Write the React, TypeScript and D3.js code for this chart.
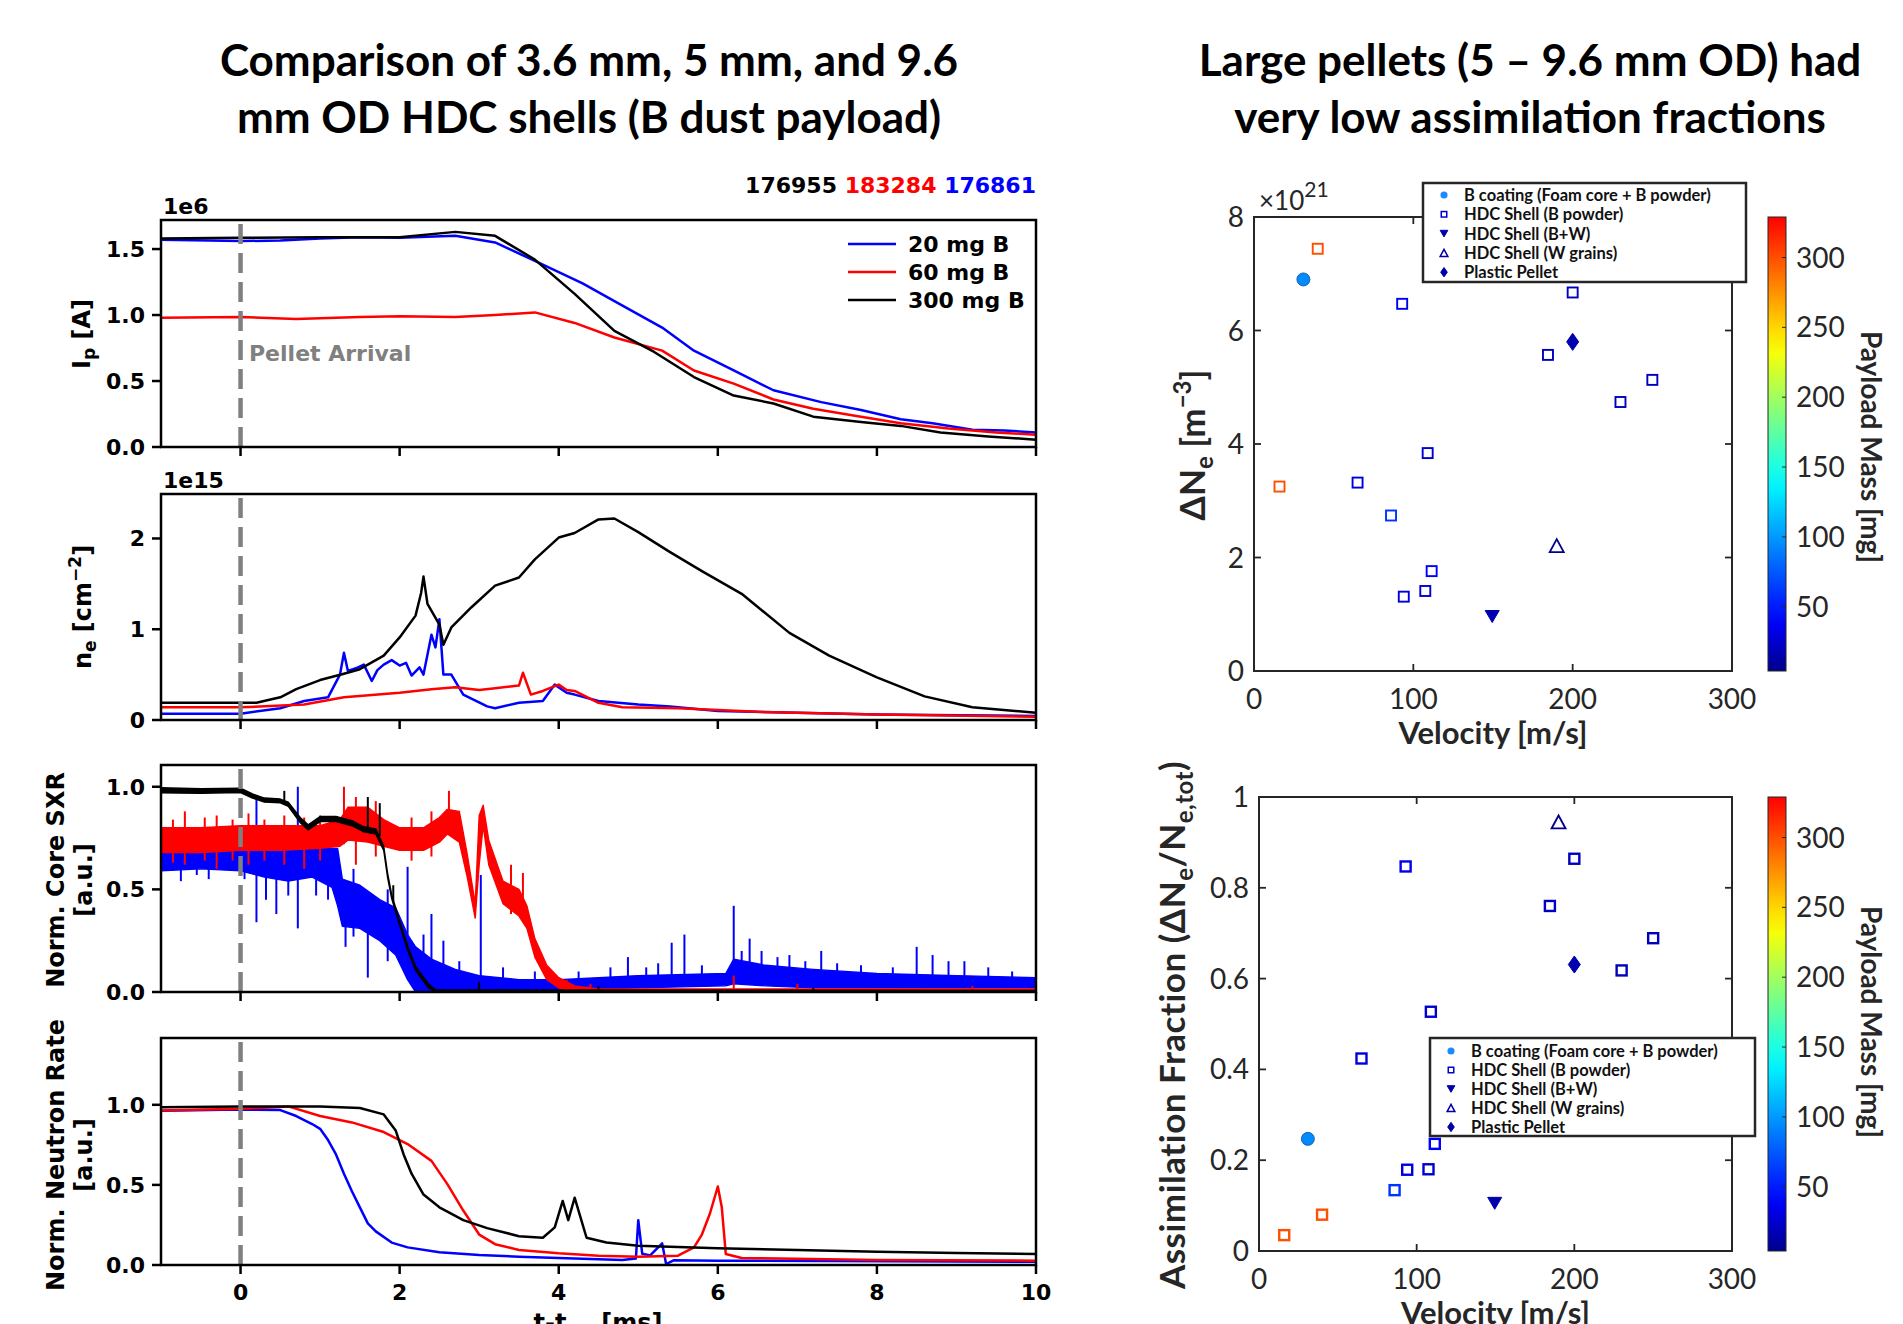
import React from 'react';
import * as d3 from 'd3';

type P2 = [number, number];
type P3 = [number, number, number];

// ---- left column: time traces (t in ms) ----
const T_TICKS = [0, 2, 4, 6, 8, 10];
const SERIES_LABELS = ['20 mg B', '60 mg B', '300 mg B'];
const SERIES_COLORS = ['#0000ff', '#ff0000', '#000000'];
const SHOT_NUMBERS = ['176955', '183284', '176861'];
const SHOT_COLORS = ['#000000', '#ff0000', '#0000ff'];

// plasma current, units of 1e6 A
const IP_20MG: P2[] = [[-1, 1.57], [0, 1.56], [0.5, 1.565], [1, 1.58], [1.5, 1.59], [2, 1.585], [2.7, 1.6], [3.2, 1.55], [3.7, 1.41], [4.3, 1.24], [4.7, 1.105], [5.3, 0.905], [5.7, 0.73], [6.2, 0.58], [6.7, 0.43], [7.3, 0.34], [7.8, 0.28], [8.3, 0.21], [8.7, 0.18], [9.2, 0.13], [9.6, 0.125], [10, 0.11]];
const IP_60MG: P2[] = [[-1, 0.98], [0, 0.985], [0.7, 0.97], [1.5, 0.985], [2, 0.99], [2.7, 0.985], [3.2, 1.0], [3.7, 1.02], [4.2, 0.94], [4.7, 0.83], [5.3, 0.73], [5.7, 0.58], [6.2, 0.48], [6.7, 0.36], [7.2, 0.29], [7.8, 0.23], [8.3, 0.18], [8.9, 0.14], [9.5, 0.11], [10, 0.093]];
const IP_300MG: P2[] = [[-1, 1.58], [0, 1.585], [1, 1.59], [2, 1.59], [2.7, 1.63], [3.2, 1.6], [3.7, 1.42], [4.2, 1.16], [4.7, 0.88], [5.2, 0.72], [5.7, 0.53], [6.2, 0.39], [6.7, 0.33], [7.2, 0.23], [7.8, 0.19], [8.3, 0.16], [8.8, 0.11], [9.4, 0.08], [10, 0.055]];

// line-integrated density, units of 1e15 cm^-2
const NE_20MG: P2[] = [[-1, 0.07], [0, 0.07], [0.5, 0.13], [0.8, 0.21], [1.1, 0.25], [1.25, 0.5], [1.3, 0.74], [1.35, 0.54], [1.45, 0.57], [1.55, 0.61], [1.65, 0.43], [1.72, 0.55], [1.8, 0.61], [1.9, 0.66], [2.0, 0.6], [2.08, 0.63], [2.15, 0.49], [2.25, 0.58], [2.3, 0.5], [2.4, 0.94], [2.45, 0.8], [2.5, 1.11], [2.55, 0.5], [2.65, 0.5], [2.8, 0.28], [3.1, 0.15], [3.2, 0.13], [3.5, 0.19], [3.8, 0.21], [3.95, 0.39], [4.1, 0.3], [4.2, 0.28], [4.5, 0.21], [5.0, 0.17], [5.4, 0.15], [6, 0.1], [7, 0.08], [8, 0.06], [10, 0.045]];
const NE_60MG: P2[] = [[-1, 0.14], [0, 0.14], [0.8, 0.17], [1.3, 0.25], [2.0, 0.3], [2.4, 0.34], [2.7, 0.36], [3.0, 0.33], [3.2, 0.35], [3.5, 0.38], [3.55, 0.52], [3.65, 0.28], [3.8, 0.32], [4.0, 0.39], [4.1, 0.33], [4.2, 0.32], [4.5, 0.19], [4.8, 0.14], [5.5, 0.13], [6.5, 0.09], [8, 0.06], [10, 0.035]];
const NE_300MG: P2[] = [[-1, 0.19], [0, 0.19], [0.2, 0.19], [0.5, 0.25], [0.7, 0.34], [1.0, 0.44], [1.3, 0.51], [1.5, 0.56], [1.8, 0.71], [2.0, 0.91], [2.2, 1.15], [2.27, 1.4], [2.3, 1.58], [2.35, 1.28], [2.5, 1.05], [2.55, 0.83], [2.65, 1.02], [2.9, 1.24], [3.2, 1.48], [3.5, 1.57], [3.7, 1.77], [4.0, 2.01], [4.2, 2.06], [4.5, 2.21], [4.7, 2.22], [5.0, 2.07], [5.4, 1.85], [5.8, 1.64], [6.3, 1.39], [6.9, 0.96], [7.4, 0.71], [8.0, 0.47], [8.6, 0.26], [9.2, 0.14], [10, 0.08]];

// core SXR, noisy: band [t, low, high] + isolated spikes [t, low, high]
const SXR_20MG_BAND: P3[] = [[-1, 0.59, 0.7], [-0.5, 0.6, 0.7], [0, 0.59, 0.71], [0.3, 0.56, 0.7], [0.6, 0.54, 0.69], [0.9, 0.56, 0.7], [1.15, 0.51, 0.7], [1.22, 0.42, 0.7], [1.28, 0.32, 0.55], [1.5, 0.31, 0.52], [1.75, 0.25, 0.45], [1.95, 0.18, 0.41], [2.1, 0.06, 0.28], [2.2, 0.0, 0.22], [2.4, 0.0, 0.16], [2.7, 0.0, 0.11], [3.0, 0.0, 0.08], [3.5, 0.0, 0.06], [4.0, 0.01, 0.06], [5.0, 0.02, 0.08], [6.1, 0.03, 0.09], [6.2, 0.04, 0.16], [6.6, 0.03, 0.13], [7.2, 0.02, 0.11], [8.0, 0.02, 0.09], [9.0, 0.02, 0.08], [10, 0.02, 0.07]];
const SXR_20MG_SPIKES: P3[] = [[-0.75, 0.54, 0.7], [-0.55, 0.57, 0.73], [-0.4, 0.55, 0.74], [0.05, 0.55, 0.76], [0.2, 0.34, 0.95], [0.32, 0.45, 0.7], [0.45, 0.38, 0.7], [0.6, 0.47, 0.74], [0.72, 0.31, 1.0], [0.95, 0.47, 0.72], [1.1, 0.45, 0.75], [1.32, 0.22, 0.5], [1.42, 0.27, 0.6], [1.6, 0.07, 0.4], [1.85, 0.15, 0.5], [2.1, 0.1, 0.61], [2.3, 0.0, 0.28], [2.4, 0.0, 0.38], [2.55, 0.0, 0.25], [2.75, 0.0, 0.15], [3.02, 0.0, 0.57], [3.3, 0.0, 0.12], [3.7, 0.0, 0.1], [4.25, 0.01, 0.1], [4.65, 0.01, 0.12], [4.87, 0.02, 0.17], [5.1, 0.02, 0.12], [5.25, 0.02, 0.14], [5.42, 0.03, 0.24], [5.58, 0.03, 0.28], [5.8, 0.03, 0.13], [6.2, 0.04, 0.42], [6.3, 0.04, 0.2], [6.4, 0.04, 0.26], [6.55, 0.03, 0.2], [6.75, 0.03, 0.17], [6.9, 0.03, 0.18], [7.1, 0.03, 0.15], [7.3, 0.03, 0.2], [7.5, 0.02, 0.14], [7.8, 0.02, 0.13], [8.2, 0.02, 0.12], [8.5, 0.02, 0.22], [8.7, 0.02, 0.18], [8.9, 0.02, 0.15], [9.1, 0.02, 0.15], [9.4, 0.02, 0.12], [9.7, 0.02, 0.1]];
const SXR_60MG_BAND: P3[] = [[-1, 0.68, 0.8], [-0.5, 0.68, 0.8], [0, 0.69, 0.81], [0.5, 0.69, 0.81], [1.0, 0.7, 0.81], [1.25, 0.71, 0.84], [1.35, 0.74, 0.9], [1.6, 0.73, 0.9], [1.8, 0.71, 0.84], [2.0, 0.69, 0.8], [2.3, 0.69, 0.8], [2.5, 0.73, 0.85], [2.6, 0.77, 0.89], [2.75, 0.73, 0.88], [2.85, 0.56, 0.67], [2.95, 0.36, 0.43], [3.0, 0.62, 0.86], [3.05, 0.81, 0.91], [3.12, 0.62, 0.74], [3.3, 0.43, 0.54], [3.5, 0.37, 0.5], [3.6, 0.31, 0.42], [3.7, 0.17, 0.26], [3.85, 0.06, 0.13], [4.0, 0.02, 0.07], [4.2, 0.0, 0.03], [4.5, 0.0, 0.015], [10, 0.0, 0.015]];
const SXR_60MG_SPIKES: P3[] = [[-0.85, 0.63, 0.84], [-0.7, 0.62, 0.88], [-0.45, 0.64, 0.85], [-0.3, 0.6, 0.86], [-0.1, 0.64, 0.84], [0.1, 0.62, 0.87], [0.3, 0.64, 0.84], [0.55, 0.62, 0.86], [0.8, 0.6, 0.85], [1.0, 0.64, 0.86], [1.3, 0.72, 1.0], [1.45, 0.62, 0.95], [1.7, 0.66, 0.93], [2.15, 0.64, 0.85], [2.4, 0.66, 0.88], [2.62, 0.8, 0.98], [3.4, 0.38, 0.62], [3.55, 0.35, 0.58], [4.1, 0.0, 0.06], [4.4, 0.0, 0.04], [6.2, 0.0, 0.08], [7.0, 0.0, 0.04], [9.2, 0.0, 0.03]];
const SXR_300MG_BAND: P3[] = [[-1, 0.97, 0.995], [-0.5, 0.968, 0.99], [0, 0.972, 0.993], [0.15, 0.945, 0.965], [0.3, 0.925, 0.945], [0.5, 0.922, 0.94], [0.6, 0.905, 0.925], [0.75, 0.825, 0.85], [0.85, 0.79, 0.815], [1.0, 0.83, 0.855], [1.2, 0.83, 0.855], [1.4, 0.81, 0.835], [1.55, 0.78, 0.805], [1.7, 0.77, 0.795], [1.8, 0.69, 0.71], [1.85, 0.555, 0.575], [1.9, 0.455, 0.475], [2.0, 0.325, 0.345], [2.1, 0.205, 0.225], [2.2, 0.105, 0.125], [2.35, 0.025, 0.045], [2.45, 0.0, 0.01], [10, 0.0, 0.008]];
const SXR_300MG_SPIKES: P3[] = [[0.55, 0.92, 0.98], [1.6, 0.78, 0.95], [1.75, 0.76, 0.92], [1.92, 0.44, 0.52], [3.0, 0.0, 0.05], [4.5, 0.0, 0.03], [7.2, 0.0, 0.02]];

// normalised neutron rate
const NR_20MG: P2[] = [[-1, 0.963], [0, 0.97], [0.5, 0.967], [0.7, 0.93], [0.9, 0.88], [1.0, 0.85], [1.1, 0.78], [1.2, 0.69], [1.3, 0.57], [1.4, 0.46], [1.5, 0.36], [1.6, 0.26], [1.7, 0.21], [1.9, 0.14], [2.1, 0.11], [2.5, 0.08], [3.0, 0.062], [3.5, 0.052], [4.0, 0.044], [4.8, 0.031], [4.97, 0.04], [5.0, 0.28], [5.05, 0.07], [5.15, 0.06], [5.3, 0.135], [5.35, 0.006], [5.45, 0.03], [6, 0.027], [10, 0.02]];
const NR_60MG: P2[] = [[-1, 0.965], [0, 0.975], [0.6, 0.99], [1.0, 0.93], [1.4, 0.89], [1.8, 0.83], [2.1, 0.755], [2.4, 0.65], [2.6, 0.505], [2.8, 0.34], [3.0, 0.19], [3.2, 0.13], [3.5, 0.094], [4.0, 0.073], [4.5, 0.058], [5.0, 0.052], [5.5, 0.058], [5.7, 0.11], [5.8, 0.19], [5.9, 0.32], [6.0, 0.49], [6.05, 0.36], [6.1, 0.069], [6.3, 0.044], [8, 0.031], [10, 0.027]];
const NR_300MG: P2[] = [[-1, 0.985], [0, 0.99], [1, 0.99], [1.5, 0.98], [1.8, 0.94], [1.95, 0.84], [2.05, 0.69], [2.15, 0.57], [2.3, 0.44], [2.5, 0.36], [2.8, 0.28], [3.1, 0.23], [3.5, 0.18], [3.8, 0.17], [3.95, 0.235], [4.05, 0.4], [4.12, 0.28], [4.2, 0.42], [4.35, 0.17], [4.6, 0.14], [5, 0.12], [6, 0.104], [7, 0.094], [8, 0.083], [9, 0.075], [10, 0.069]];

// ---- right column: pellet scatter ----
const VELOCITY = [40, 16, 31, 93, 200, 200, 184.5, 250, 230, 109, 65, 86, 190, 111.5, 107.5, 94, 149.5];
const DELTA_NE = [7.44, 3.25, 6.9, 6.47, 6.67, 5.8, 5.57, 5.13, 4.74, 3.84, 3.32, 2.74, 2.21, 1.76, 1.41, 1.31, 0.96];
const ASSIM_FRAC = [0.08, 0.035, 0.247, 0.847, 0.864, 0.631, 0.76, 0.689, 0.618, 0.527, 0.424, 0.134, 0.945, 0.236, 0.18, 0.179, 0.105];
const PAYLOAD_MG = [300, 300, 95, 35, 20, 15, 20, 20, 20, 25, 30, 60, 5, 40, 25, 30, 15];
const PELLET_TYPE = ['hdcB', 'hdcB', 'coat', 'hdcB', 'hdcB', 'plastic', 'hdcB', 'hdcB', 'hdcB', 'hdcB', 'hdcB', 'hdcB', 'hdcW', 'hdcB', 'hdcB', 'hdcB', 'hdcBW'];
const LEGEND_TYPES = ['coat', 'hdcB', 'hdcBW', 'hdcW', 'plastic'];
const LEGEND_LABELS = ['B coating (Foam core + B powder)', 'HDC Shell (B powder)', 'HDC Shell (B+W)', 'HDC Shell (W grains)', 'Plastic Pellet'];
const CBAR_TICKS = [50, 100, 150, 200, 250, 300];
const V_TICKS = [0, 100, 200, 300];

const MPL = "'DejaVu Sans', sans-serif";
const ML = "Lato, 'Open Sans', sans-serif";
const INK = '#262626';

const jet = d3.scaleLinear<string>()
  .domain([4, 40, 140, 235, 329])
  .range(['#00008c', '#0000ff', '#00ffff', '#ffff00', '#ff0000'])
  .clamp(true);

const xT = d3.scaleLinear().domain([-1, 10]).range([161, 1036]);

function Marker({ type, cx, cy, color, big, sq = 1.9 }: { type: string; cx: number; cy: number; color: string; big?: boolean; sq?: number }) {
  const k = big ? 1 : 0.55;
  if (type === 'coat') {
    return <circle cx={cx} cy={cy} r={6.5 * k} fill={color} stroke={big ? '#0a4a9a' : 'none'} strokeWidth={0.8} />;
  }
  if (type === 'hdcB') {
    const s = 10 * k;
    return <rect x={cx - s / 2} y={cy - s / 2} width={s} height={s} fill="none" stroke={color} strokeWidth={big ? sq : 1.5} />;
  }
  if (type === 'hdcBW') {
    const w = 14 * k, h = 12 * k;
    return <path d={`M${cx - w / 2},${cy - h / 2}L${cx + w / 2},${cy - h / 2}L${cx},${cy + h / 2}Z`} fill={color} stroke={color} strokeWidth={1} />;
  }
  if (type === 'hdcW') {
    const w = 14 * k, h = 13 * k;
    return <path d={`M${cx - w / 2},${cy + h / 2}L${cx + w / 2},${cy + h / 2}L${cx},${cy - h / 2}Z`} fill="none" stroke={color} strokeWidth={big ? 1.8 : 1.5} />;
  }
  const w = 12 * k, h = 17 * k;
  return <path d={`M${cx},${cy - h / 2}L${cx + w / 2},${cy}L${cx},${cy + h / 2}L${cx - w / 2},${cy}Z`} fill={color} stroke={color} strokeWidth={1} />;
}

function ScatterPanel(props: {
  id: string; left: number; right: number; top: number; bottom: number;
  yMax: number; yTicks: number[]; values: number[];
  legend: { x: number; y: number; w: number; h: number; rowY: number; dy: number };
  yLabel: React.ReactNode; cbarLabelY: number; squareStroke: number;
}) {
  const { left, right, top, bottom, yMax, yTicks, values, legend } = props;
  const x = d3.scaleLinear().domain([0, 300]).range([left, right]);
  const y = d3.scaleLinear().domain([0, yMax]).range([bottom, top]);
  const cbY = d3.scaleLinear().domain([4, 329]).range([bottom, top]);
  const stops = d3.range(0, 1.0001, 0.05);
  const cbX = 1768;
  return (
    <g>
      <defs>
        <linearGradient id={`grad-${props.id}`} x1="0" y1="1" x2="0" y2="0">
          {stops.map((s) => (
            <stop key={s} offset={s} stopColor={jet(4 + s * 325)} />
          ))}
        </linearGradient>
      </defs>
      {/* ticks inside, all four sides */}
      {yTicks.slice(1, -1).map((t) => (
        <g key={t}>
          <line x1={left} x2={left + 7} y1={y(t)} y2={y(t)} stroke={INK} strokeWidth={1.8} />
          <line x1={right - 7} x2={right} y1={y(t)} y2={y(t)} stroke={INK} strokeWidth={1.8} />
        </g>
      ))}
      {V_TICKS.slice(1, -1).map((t) => (
        <g key={t}>
          <line x1={x(t)} x2={x(t)} y1={bottom} y2={bottom - 7} stroke={INK} strokeWidth={1.8} />
          <line x1={x(t)} x2={x(t)} y1={top} y2={top + 7} stroke={INK} strokeWidth={1.8} />
        </g>
      ))}
      <rect x={left} y={top} width={right - left} height={bottom - top} fill="none" stroke={INK} strokeWidth={2} />
      {yTicks.map((t) => (
        <text key={t} x={left - 10} y={y(t) + 10} textAnchor="end" fontFamily={ML} fontSize={28} fill={INK}>{String(t)}</text>
      ))}
      {V_TICKS.map((t) => (
        <text key={t} x={x(t)} y={bottom + 38} textAnchor="middle" fontFamily={ML} fontSize={28} fill={INK}>{t}</text>
      ))}
      <text x={(left + right) / 2} y={bottom + 73} textAnchor="middle" fontFamily={ML} fontSize={31} fontWeight={700} fill={INK}>Velocity [m/s]</text>
      {props.yLabel}

      {VELOCITY.map((v, i) => (
        <Marker key={i} type={PELLET_TYPE[i]} cx={x(v)} cy={y(values[i])} color={jet(PAYLOAD_MG[i])} big sq={props.squareStroke} />
      ))}

      {/* legend */}
      <rect x={legend.x} y={legend.y} width={legend.w} height={legend.h} fill="#fff" stroke={INK} strokeWidth={2.5} />
      {LEGEND_TYPES.map((t, i) => (
        <g key={t}>
          <Marker type={t} cx={legend.x + 21} cy={legend.rowY + i * legend.dy} color={t === 'coat' ? '#1a8cff' : t === 'hdcB' ? '#0000d0' : '#0000a8'} big={false} />
          <text x={legend.x + 41} y={legend.rowY + i * legend.dy + 6} fontFamily={ML} fontSize={16.5} fontWeight={700} fill="#111">{LEGEND_LABELS[i]}</text>
        </g>
      ))}

      {/* colorbar */}
      <rect x={cbX} y={top} width={18} height={bottom - top} fill={`url(#grad-${props.id})`} stroke={INK} strokeWidth={1} />
      {CBAR_TICKS.map((t) => (
        <g key={t}>
          <line x1={cbX + 14} x2={cbX + 18} y1={cbY(t)} y2={cbY(t)} stroke={INK} strokeWidth={1} />
          <text x={cbX + 28} y={cbY(t) + 10} fontFamily={ML} fontSize={28} fill={INK}>{t}</text>
        </g>
      ))}
      <text transform={`translate(1861,${props.cbarLabelY}) rotate(90)`} textAnchor="middle" fontFamily={ML} fontSize={28} fontWeight={700} fill={INK}>Payload Mass [mg]</text>
    </g>
  );
}

export default function App() {
  const fmt1 = d3.format('.1f');
  const tracePanels = [
    { key: 'ip', top: 220, bottom: 447, yMax: 1.72, ticks: [0, 0.5, 1, 1.5], fmt: fmt1, lines: [IP_20MG, IP_60MG, IP_300MG], exp: '1e6' },
    { key: 'ne', top: 494, bottom: 720, yMax: 2.49, ticks: [0, 1, 2], fmt: d3.format('d'), lines: [NE_20MG, NE_60MG, NE_300MG], exp: '1e15' },
    { key: 'sxr', top: 765, bottom: 992, yMax: 1.106, ticks: [0, 0.5, 1], fmt: fmt1, bands: [SXR_20MG_BAND, SXR_60MG_BAND, SXR_300MG_BAND], spikes: [SXR_20MG_SPIKES, SXR_60MG_SPIKES, SXR_300MG_SPIKES] },
    { key: 'nr', top: 1038, bottom: 1265, yMax: 1.417, ticks: [0, 0.5, 1], fmt: fmt1, lines: [NR_20MG, NR_60MG, NR_300MG] },
  ];

  return (
    <div style={{ position: 'absolute', left: 0, top: 0 }}>
      <svg width={1903} height={1324} style={{ display: 'block', background: '#fff' }}>
        {/* titles */}
        <g fontFamily={ML} fontWeight={700} fontSize={44} fill="#000" textAnchor="middle">
          <text x={589} y={76}>Comparison of 3.6 mm, 5 mm, and 9.6</text>
          <text x={589} y={133}>mm OD HDC shells (B dust payload)</text>
          <text x={1530} y={76}>Large pellets (5 – 9.6 mm OD) had</text>
          <text x={1530} y={133}>very low assimilation fractions</text>
        </g>

        <text x={1036} y={193} textAnchor="end" fontFamily={MPL} fontWeight={700} fontSize={22}>
          {SHOT_NUMBERS.map((s, i) => (
            <tspan key={s} fill={SHOT_COLORS[i]}>{(i ? ' ' : '') + s}</tspan>
          ))}
        </text>

        {tracePanels.map((p) => {
          const y = d3.scaleLinear().domain([0, p.yMax]).range([p.bottom, p.top]);
          const line = d3.line<P2>().x((d) => xT(d[0])).y((d) => y(d[1]));
          const area = d3.area<P3>().x((d) => xT(d[0])).y0((d) => y(d[1])).y1((d) => y(d[2]));
          return (
            <g key={p.key}>
              <clipPath id={`clip-${p.key}`}>
                <rect x={161} y={p.top} width={875} height={p.bottom - p.top} />
              </clipPath>
              <g clipPath={`url(#clip-${p.key})`}>
                {p.bands && p.bands.map((b, i) => (
                  <g key={i}>
                    <path d={area(b) || ''} fill={SERIES_COLORS[i]} stroke={SERIES_COLORS[i]} strokeWidth={1.4} strokeLinejoin="round" />
                    {p.spikes![i].map((s, j) => (
                      <line key={j} x1={xT(s[0])} x2={xT(s[0])} y1={y(s[1])} y2={y(s[2])} stroke={SERIES_COLORS[i]} strokeWidth={2} />
                    ))}
                  </g>
                ))}
                {p.lines && p.lines.map((l, i) => (
                  <path key={i} d={line(l) || ''} fill="none" stroke={SERIES_COLORS[i]} strokeWidth={2.5} strokeLinejoin="round" />
                ))}
              </g>
              <line x1={xT(0)} x2={xT(0)} y1={p.top + 4} y2={p.bottom} stroke="#808080" strokeWidth={4.5} strokeDasharray="20 9" />
              <rect x={161} y={p.top} width={875} height={p.bottom - p.top} fill="none" stroke="#000" strokeWidth={2.5} />
              {p.ticks.map((t) => (
                <g key={t}>
                  <line x1={152} x2={161} y1={y(t)} y2={y(t)} stroke="#000" strokeWidth={2.5} />
                  <text x={145} y={y(t) + 8} textAnchor="end" fontFamily={MPL} fontWeight={700} fontSize={22}>{p.fmt(t)}</text>
                </g>
              ))}
              {T_TICKS.map((t) => (
                <line key={t} x1={xT(t)} x2={xT(t)} y1={p.bottom} y2={p.bottom + 9} stroke="#000" strokeWidth={2.5} />
              ))}
              {p.exp && (
                <text x={163} y={p.top - 6} fontFamily={MPL} fontWeight={700} fontSize={22}>{p.exp}</text>
              )}
            </g>
          );
        })}

        {/* legend + annotation in Ip panel */}
        {SERIES_LABELS.map((s, i) => (
          <g key={s}>
            <line x1={848} x2={896} y1={244 + i * 28} y2={244 + i * 28} stroke={SERIES_COLORS[i]} strokeWidth={2.5} />
            <text x={908} y={252 + i * 28} fontFamily={MPL} fontWeight={700} fontSize={22}>{s}</text>
          </g>
        ))}
        <text x={249} y={361} fontFamily={MPL} fontWeight={700} fontSize={22} fill="#808080">Pellet Arrival</text>

        {/* bottom x tick labels */}
        {T_TICKS.map((t) => (
          <text key={t} x={xT(t)} y={1300} textAnchor="middle" fontFamily={MPL} fontWeight={700} fontSize={22}>{t}</text>
        ))}
        <text x={598} y={1331} textAnchor="middle" fontFamily={MPL} fontWeight={700} fontSize={24}>
          t-t<tspan fontSize={16} dy={5}>arr</tspan><tspan dy={-5}> [ms]</tspan>
        </text>

        {/* y labels */}
        <g fontFamily={MPL} fontWeight={700} fontSize={24} textAnchor="middle">
          <text transform="translate(90,334) rotate(-90)">
            I<tspan fontSize={17} dy={5}>p</tspan><tspan dy={-5}> [A]</tspan>
          </text>
          <text transform="translate(91,607) rotate(-90)">
            n<tspan fontSize={17} dy={5}>e</tspan><tspan dy={-5}> [cm</tspan><tspan fontSize={17} dy={-10}>−2</tspan><tspan dy={10}>]</tspan>
          </text>
          <text transform="translate(64,880) rotate(-90)">Norm. Core SXR</text>
          <text transform="translate(92,880) rotate(-90)">[a.u.]</text>
          <text transform="translate(64,1155) rotate(-90)">Norm. Neutron Rate</text>
          <text transform="translate(92,1155) rotate(-90)">[a.u.]</text>
        </g>

        {/* right column */}
        <ScatterPanel
          id="dne" left={1254} right={1732} top={217} bottom={671} yMax={8} yTicks={[0, 2, 4, 6, 8]}
          values={DELTA_NE} squareStroke={1.9}
          legend={{ x: 1423, y: 183, w: 323, h: 99, rowY: 195, dy: 19.3 }}
          cbarLabelY={447}
          yLabel={
            <text transform="translate(1205,445) rotate(-90)" textAnchor="middle" fontFamily={ML} fontSize={35} fontWeight={700} fill={INK}>
              ΔN<tspan fontSize={24} dy={8}>e</tspan><tspan dy={-8}> [m</tspan><tspan fontSize={24} dy={-14}>−3</tspan><tspan dy={14}>]</tspan>
            </text>
          }
        />
        <text x={1259} y={210} fontFamily={ML} fontSize={26} fill={INK}>
          ×10<tspan fontSize={21} dy={-13}>21</tspan>
        </text>
        <ScatterPanel
          id="af" left={1259} right={1732} top={797} bottom={1251} yMax={1} yTicks={[0, 0.2, 0.4, 0.6, 0.8, 1]}
          values={ASSIM_FRAC} squareStroke={2.4}
          legend={{ x: 1430, y: 1038, w: 325, h: 98, rowY: 1051, dy: 19 }}
          cbarLabelY={1022}
          yLabel={
            <text transform="translate(1185,1025) rotate(-90)" textAnchor="middle" fontFamily={ML} fontSize={35} fontWeight={700} fill={INK} letterSpacing={0.5}>
              Assimilation Fraction (ΔN<tspan fontSize={24} dy={8}>e</tspan><tspan dy={-8}>/N</tspan><tspan fontSize={24} dy={8}>e,tot</tspan><tspan dy={-8}>)</tspan>
            </text>
          }
        />
      </svg>
    </div>
  );
}
